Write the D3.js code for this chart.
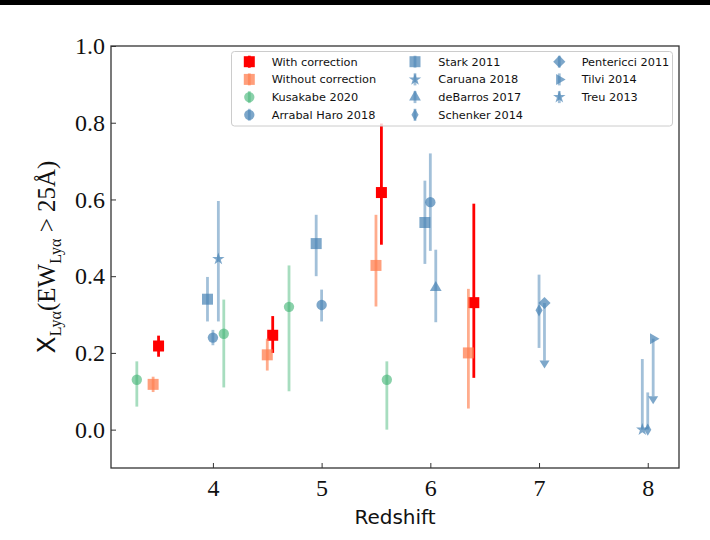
<!DOCTYPE html>
<html>
<head>
<meta charset="utf-8">
<script src="https://cdn.jsdelivr.net/npm/d3@7"></script>
<style>
  html, body { margin: 0; padding: 0; background: #fff; }
  svg { display: block; }
</style>
</head>
<body>
<svg id="chart" width="710" height="540"></svg>
<script>
// values: redshift, fraction, upper / lower error
const withZ = [3.5, 4.55, 5.55, 6.4];
const withX = [0.218, 0.246, 0.618, 0.331];
const withUp = [0.027, 0.05, 0.18, 0.258];
const withDn = [0.028, 0.046, 0.136, 0.196];

const withoutZ = [3.45, 4.5, 5.5, 6.35];
const withoutX = [0.118, 0.195, 0.428, 0.2];
const withoutUp = [0.02, 0.042, 0.132, 0.167];
const withoutDn = [0.02, 0.041, 0.107, 0.145];

const kusakabeZ = [3.3, 4.1, 4.7, 5.6];
const kusakabeX = [0.13, 0.25, 0.32, 0.13];
const kusakabeUp = [0.048, 0.089, 0.108, 0.048];
const kusakabeDn = [0.07, 0.14, 0.22, 0.13];

const arrabalZ = [4.0, 5.0, 6.0];
const arrabalX = [0.24, 0.325, 0.593];
const arrabalUp = [0.02, 0.04, 0.127];
const arrabalDn = [0.02, 0.043, 0.127];

const starkZ = [3.95, 4.95, 5.95];
const starkX = [0.34, 0.485, 0.54];
const starkUp = [0.058, 0.075, 0.109];
const starkDn = [0.058, 0.085, 0.108];

const caruanaZ = [4.05];
const caruanaX = [0.445];
const caruanaUp = [0.151];
const caruanaDn = [0.163];

const debarrosZ = [6.05];
const debarrosX = [0.37];
const debarrosUp = [0.099];
const debarrosDn = [0.09];

const schenkerZ = [7.0, 8.0];
const schenkerX = [0.311, 0.0];
const schenkerUp = [0.093, 0.097];
const schenkerDn = [0.098, 0.0];

// upper limits (arrow pointing down)
const pentericciZ = [7.05];
const pentericciX = [0.33];
const pentericciLim = [0.15];

const tilviZ = [8.05];
const tilviX = [0.237];
const tilviLim = [0.15];

const treuZ = [7.95];
const treuX = [0.0];
const treuUp = [0.184];
const treuDn = [0.0];

const xTicks = [4, 5, 6, 7, 8];
const yTicks = [0.0, 0.2, 0.4, 0.6, 0.8, 1.0];

const series = [
  { name: "With correction", z: withZ, v: withX, up: withUp, dn: withDn, color: "#ff0000", shape: "square", lineOp: 1, markOp: 1 },
  { name: "Without correction", z: withoutZ, v: withoutX, up: withoutUp, dn: withoutDn, color: "#ff7f50", shape: "square", lineOp: 0.65, markOp: 0.75 },
  { name: "Kusakabe 2020", z: kusakabeZ, v: kusakabeX, up: kusakabeUp, dn: kusakabeDn, color: "#3cb371", shape: "circle", lineOp: 0.45, markOp: 0.6 },
  { name: "Arrabal Haro 2018", z: arrabalZ, v: arrabalX, up: arrabalUp, dn: arrabalDn, color: "#4682b4", shape: "circle", lineOp: 0.5, markOp: 0.7 },
  { name: "Stark 2011", z: starkZ, v: starkX, up: starkUp, dn: starkDn, color: "#4682b4", shape: "square", lineOp: 0.5, markOp: 0.7 },
  { name: "Caruana 2018", z: caruanaZ, v: caruanaX, up: caruanaUp, dn: caruanaDn, color: "#4682b4", shape: "star", lineOp: 0.5, markOp: 0.7 },
  { name: "deBarros 2017", z: debarrosZ, v: debarrosX, up: debarrosUp, dn: debarrosDn, color: "#4682b4", shape: "triangle", lineOp: 0.5, markOp: 0.7 },
  { name: "Schenker 2014", z: schenkerZ, v: schenkerX, up: schenkerUp, dn: schenkerDn, color: "#4682b4", shape: "thinDiamond", lineOp: 0.5, markOp: 0.7 },
  { name: "Pentericci 2011", z: pentericciZ, v: pentericciX, lim: pentericciLim, color: "#4682b4", shape: "diamond", lineOp: 0.5, markOp: 0.7 },
  { name: "Tilvi 2014", z: tilviZ, v: tilviX, lim: tilviLim, color: "#4682b4", shape: "triRight", lineOp: 0.5, markOp: 0.7 },
  { name: "Treu 2013", z: treuZ, v: treuX, up: treuUp, dn: treuDn, color: "#4682b4", shape: "star", lineOp: 0.5, markOp: 0.7 }
];

const svg = d3.select("#chart");
const plot = { left: 111, right: 679, top: 46, bottom: 468 };

const x = d3.scaleLinear().domain([3.0625, 8.2875]).range([plot.left, plot.right]);
const y = d3.scaleLinear().domain([-0.1, 1.0]).range([plot.bottom, plot.top]);

// black strip along the top edge of the figure
svg.append("rect").attr("x", 0).attr("y", 0).attr("width", 710).attr("height", 5).attr("fill", "#000");

const shapes = {
  square: { type: d3.symbolSquare, size: 121, rot: 0 },
  circle: { type: d3.symbolCircle, size: 84, rot: 0 },
  star: { type: d3.symbolStar, size: 48, rot: 0 },
  triangle: { type: d3.symbolTriangle, size: 60, rot: 0 },
  thinDiamond: { type: d3.symbolDiamond, size: 44, rot: 0 },
  diamond: { type: d3.symbolSquare, size: 74, rot: 45 },
  triRight: { type: d3.symbolTriangle, size: 52, rot: 90 }
};

function drawMarker(g, shape, cx, cy, color, op) {
  const s = shapes[shape];
  g.append("path")
    .attr("d", d3.symbol().type(s.type).size(s.size)())
    .attr("transform", `translate(${cx},${cy}) rotate(${s.rot})`)
    .attr("fill", color)
    .attr("fill-opacity", op);
}

const dataG = svg.append("g");

series.forEach(s => {
  s.z.forEach((z, i) => {
    const cx = x(z), cy = y(s.v[i]);
    if (s.lim) {
      const yb = y(s.v[i] - s.lim[i]);
      dataG.append("line")
        .attr("x1", cx).attr("x2", cx).attr("y1", cy).attr("y2", yb)
        .attr("stroke", s.color).attr("stroke-opacity", s.lineOp).attr("stroke-width", 2.8);
      dataG.append("path")
        .attr("d", d3.line()([[cx - 5, yb], [cx + 5, yb], [cx, yb + 8]]) + "Z")
        .attr("fill", s.color).attr("fill-opacity", s.markOp);
    } else {
      dataG.append("line")
        .attr("x1", cx).attr("x2", cx)
        .attr("y1", y(s.v[i] + s.up[i])).attr("y2", y(s.v[i] - s.dn[i]))
        .attr("stroke", s.color).attr("stroke-opacity", s.lineOp).attr("stroke-width", 2.8);
    }
    drawMarker(dataG, s.shape, cx, cy, s.color, s.markOp);
  });
});

// axes with inward ticks
const xAxis = d3.axisBottom(x).tickValues(xTicks).tickSizeInner(-5).tickSizeOuter(0)
  .tickPadding(11).tickFormat(d3.format("d"));
const yAxis = d3.axisLeft(y).tickValues(yTicks).tickSizeInner(-5).tickSizeOuter(0)
  .tickPadding(6).tickFormat(d3.format(".1f"));

const gx = svg.append("g").attr("transform", `translate(0,${plot.bottom})`).call(xAxis);
const gy = svg.append("g").attr("transform", `translate(${plot.left},0)`).call(yAxis);
[gx, gy].forEach(g => {
  g.select(".domain").remove();
  g.selectAll(".tick line").attr("stroke", "#333").attr("stroke-width", 1);
  g.selectAll(".tick text")
    .attr("fill", "#111")
    .style("font-family", "'Liberation Serif', serif")
    .style("font-size", "24px");
});

svg.append("rect")
  .attr("x", plot.left).attr("y", plot.top)
  .attr("width", plot.right - plot.left).attr("height", plot.bottom - plot.top)
  .attr("fill", "none").attr("stroke", "#333").attr("stroke-width", 1.3);

// axis titles
svg.append("text")
  .attr("x", (plot.left + plot.right) / 2).attr("y", 524)
  .attr("text-anchor", "middle")
  .style("font-family", "'DejaVu Sans', sans-serif")
  .style("font-size", "20px")
  .attr("fill", "#111")
  .text("Redshift");

const yl = svg.append("text")
  .attr("transform", `translate(55,${(plot.top + plot.bottom) / 2}) rotate(-90)`)
  .attr("text-anchor", "middle")
  .attr("fill", "#111")
  .style("font-family", "'Liberation Serif', serif")
  .style("font-size", "25px");
yl.append("tspan").style("font-family", "'DejaVu Sans', sans-serif").text("X");
yl.append("tspan").attr("dy", 6).style("font-size", "16px").text("Lyα");
yl.append("tspan").attr("dy", -6).text("(EW");
yl.append("tspan").attr("dy", 6).style("font-size", "16px").text("Lyα");
yl.append("tspan").attr("dy", -6).text(" > 25Å)");

// legend
const legendG = svg.append("g");
legendG.append("rect")
  .attr("x", 231.5).attr("y", 51.5).attr("width", 441).attr("height", 74.5).attr("rx", 3)
  .attr("fill", "#fff").attr("fill-opacity", 0.8)
  .attr("stroke", "#cccccc").attr("stroke-width", 1);

const colMarkerX = [249.3, 415, 559.3];
const colTextX = [271.7, 438.3, 581.7];
const rowY = [61.7, 79.4, 97.1, 114.8];

series.forEach((s, i) => {
  const col = Math.floor(i / 4), row = i % 4;
  const mx = colMarkerX[col], my = rowY[row];
  legendG.append("line")
    .attr("x1", mx).attr("x2", mx).attr("y1", my - 6).attr("y2", my + 6)
    .attr("stroke", s.color).attr("stroke-opacity", s.lineOp).attr("stroke-width", 2.8);
  drawMarker(legendG, s.shape, mx, my, s.color, s.markOp);
  legendG.append("text")
    .attr("x", colTextX[col]).attr("y", my).attr("dy", "0.36em")
    .style("font-family", "'DejaVu Sans', sans-serif")
    .style("font-size", "11.3px")
    .attr("fill", "#111")
    .text(s.name);
});
</script>
</body>
</html>
